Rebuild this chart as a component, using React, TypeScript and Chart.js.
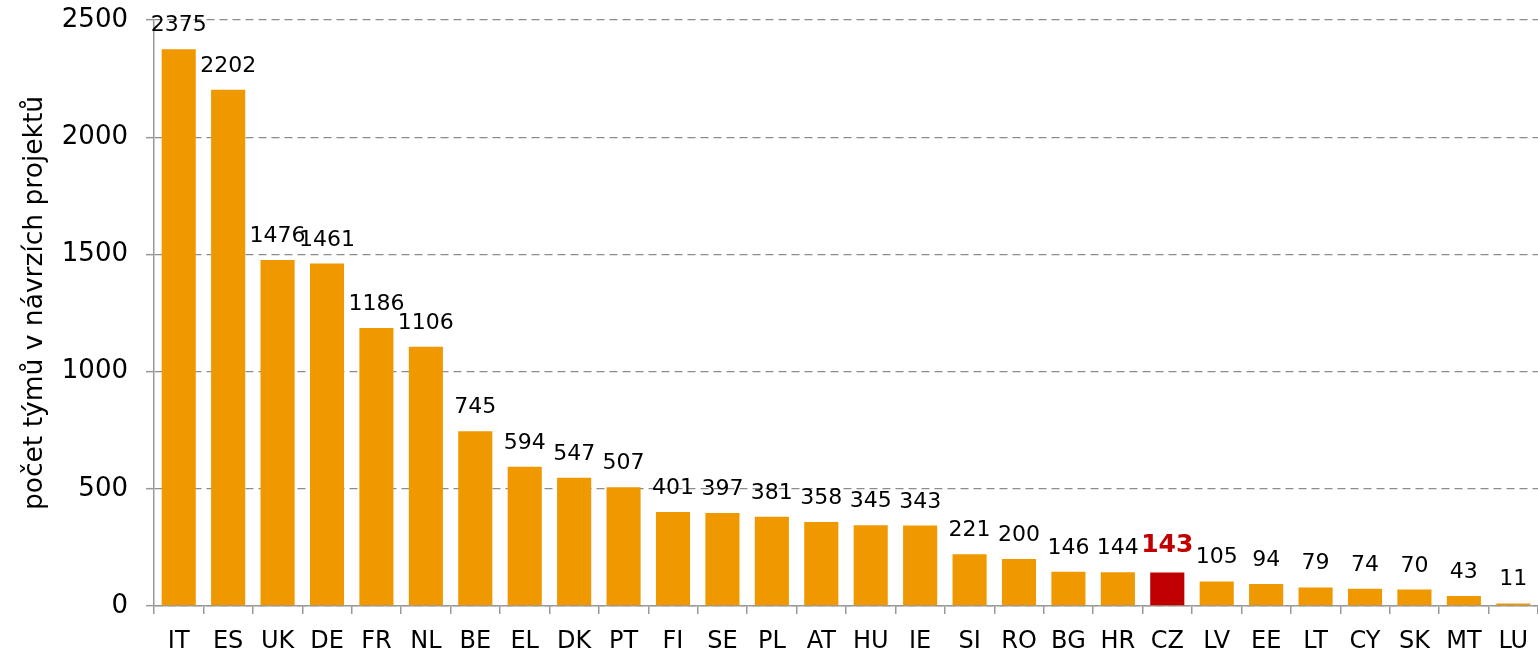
import React, { useEffect, useRef } from "react";
import { Chart, registerables } from "chart.js";

Chart.register(...registerables);

const categories = ["IT","ES","UK","DE","FR","NL","BE","EL","DK","PT","FI","SE","PL","AT","HU","IE","SI","RO","BG","HR","CZ","LV","EE","LT","CY","SK","MT","LU"];
const values = [2375,2202,1476,1461,1186,1106,745,594,547,507,401,397,381,358,345,343,221,200,146,144,143,105,94,79,74,70,43,11];
const highlight = "CZ";
const yTicks = [0, 500, 1000, 1500, 2000, 2500];
const yTitle = "počet týmů v návrzích projektů";

const FONT = "'DejaVu Sans', Verdana, sans-serif";
const ORANGE = "#F09800";
const RED = "#C00000";

const labelPlugin = {
  id: "barLabels",
  afterDatasetsDraw(chart: any) {
    const ctx = chart.ctx;
    const meta = chart.getDatasetMeta(0);
    ctx.save();
    ctx.textAlign = "center";
    ctx.textBaseline = "alphabetic";
    meta.data.forEach((bar: any, i: number) => {
      const isHi = categories[i] === highlight;
      ctx.fillStyle = isHi ? RED : "#000";
      ctx.font = isHi ? `bold 25px ${FONT}` : `22px ${FONT}`;
      ctx.fillText(String(values[i]), bar.x, bar.y - (isHi ? 20 : 18));
    });
    // y-axis title
    const area = chart.chartArea;
    ctx.save();
    ctx.translate(35, (area.top + area.bottom) / 2 - 10);
    ctx.rotate(-Math.PI / 2);
    ctx.fillStyle = "#000";
    ctx.font = `26.5px ${FONT}`;
    ctx.textAlign = "center";
    ctx.textBaseline = "middle";
    ctx.fillText(yTitle, 0, 0);
    ctx.restore();
    ctx.restore();
  },
};

export default function App() {
  const ref = useRef<HTMLCanvasElement>(null);
  useEffect(() => {
    if (!ref.current) return;
    const chart = new Chart(ref.current, {
      type: "bar",
      data: {
        labels: categories,
        datasets: [
          {
            data: values,
            backgroundColor: categories.map((c) => (c === highlight ? RED : ORANGE)),
            barPercentage: 0.69,
            categoryPercentage: 1,
          },
        ],
      },
      options: {
        animation: false,
        responsive: false,
        maintainAspectRatio: false,
        layout: { padding: { top: 20, right: 0, left: 0, bottom: 0 } },
        plugins: { legend: { display: false }, tooltip: { enabled: false } },
        scales: {
          x: {
            grid: {
              offset: true,
              drawOnChartArea: false,
              drawTicks: true,
              tickLength: 8,
              color: "#999",
              lineWidth: 1.5,
            },
            border: { display: true, color: "#999", width: 1.5 },
            ticks: {
              color: "#000",
              font: { family: FONT, size: 24 },
              padding: 13,
              maxRotation: 0,
              autoSkip: false,
            },
            afterFit: (s: any) => {
              s.height = 50;
              s.paddingLeft = 0;
              s.paddingRight = 0;
            },
          },
          y: {
            min: 0,
            max: 2500,
            afterBuildTicks: (s: any) => {
              s.ticks = yTicks.map((v) => ({ value: v }));
            },
            grid: {
              color: "#8c8c8c",
              lineWidth: 1.3,
              tickBorderDash: [],
              tickLength: 8,
              tickColor: "#999",
              tickWidth: 1.5,
            },
            border: { display: true, color: "#999", width: 1.5, dash: [8, 5] },
            ticks: {
              color: "#000",
              font: { family: FONT, size: 26 },
              padding: 18,
              callback: (v: any) => String(v),
            },
            title: { display: false },
            afterFit: (s: any) => {
              s.width = 154;
              s.paddingTop = 0;
              s.paddingBottom = 0;
            },
          },
        },
      },
      plugins: [labelPlugin],
    });
    return () => chart.destroy();
  }, []);
  return (
    <div style={{ position: "fixed", left: 0, top: 0, width: 1538, height: 656, background: "#fff" }}>
      <canvas ref={ref} width={1538} height={656} />
    </div>
  );
}
